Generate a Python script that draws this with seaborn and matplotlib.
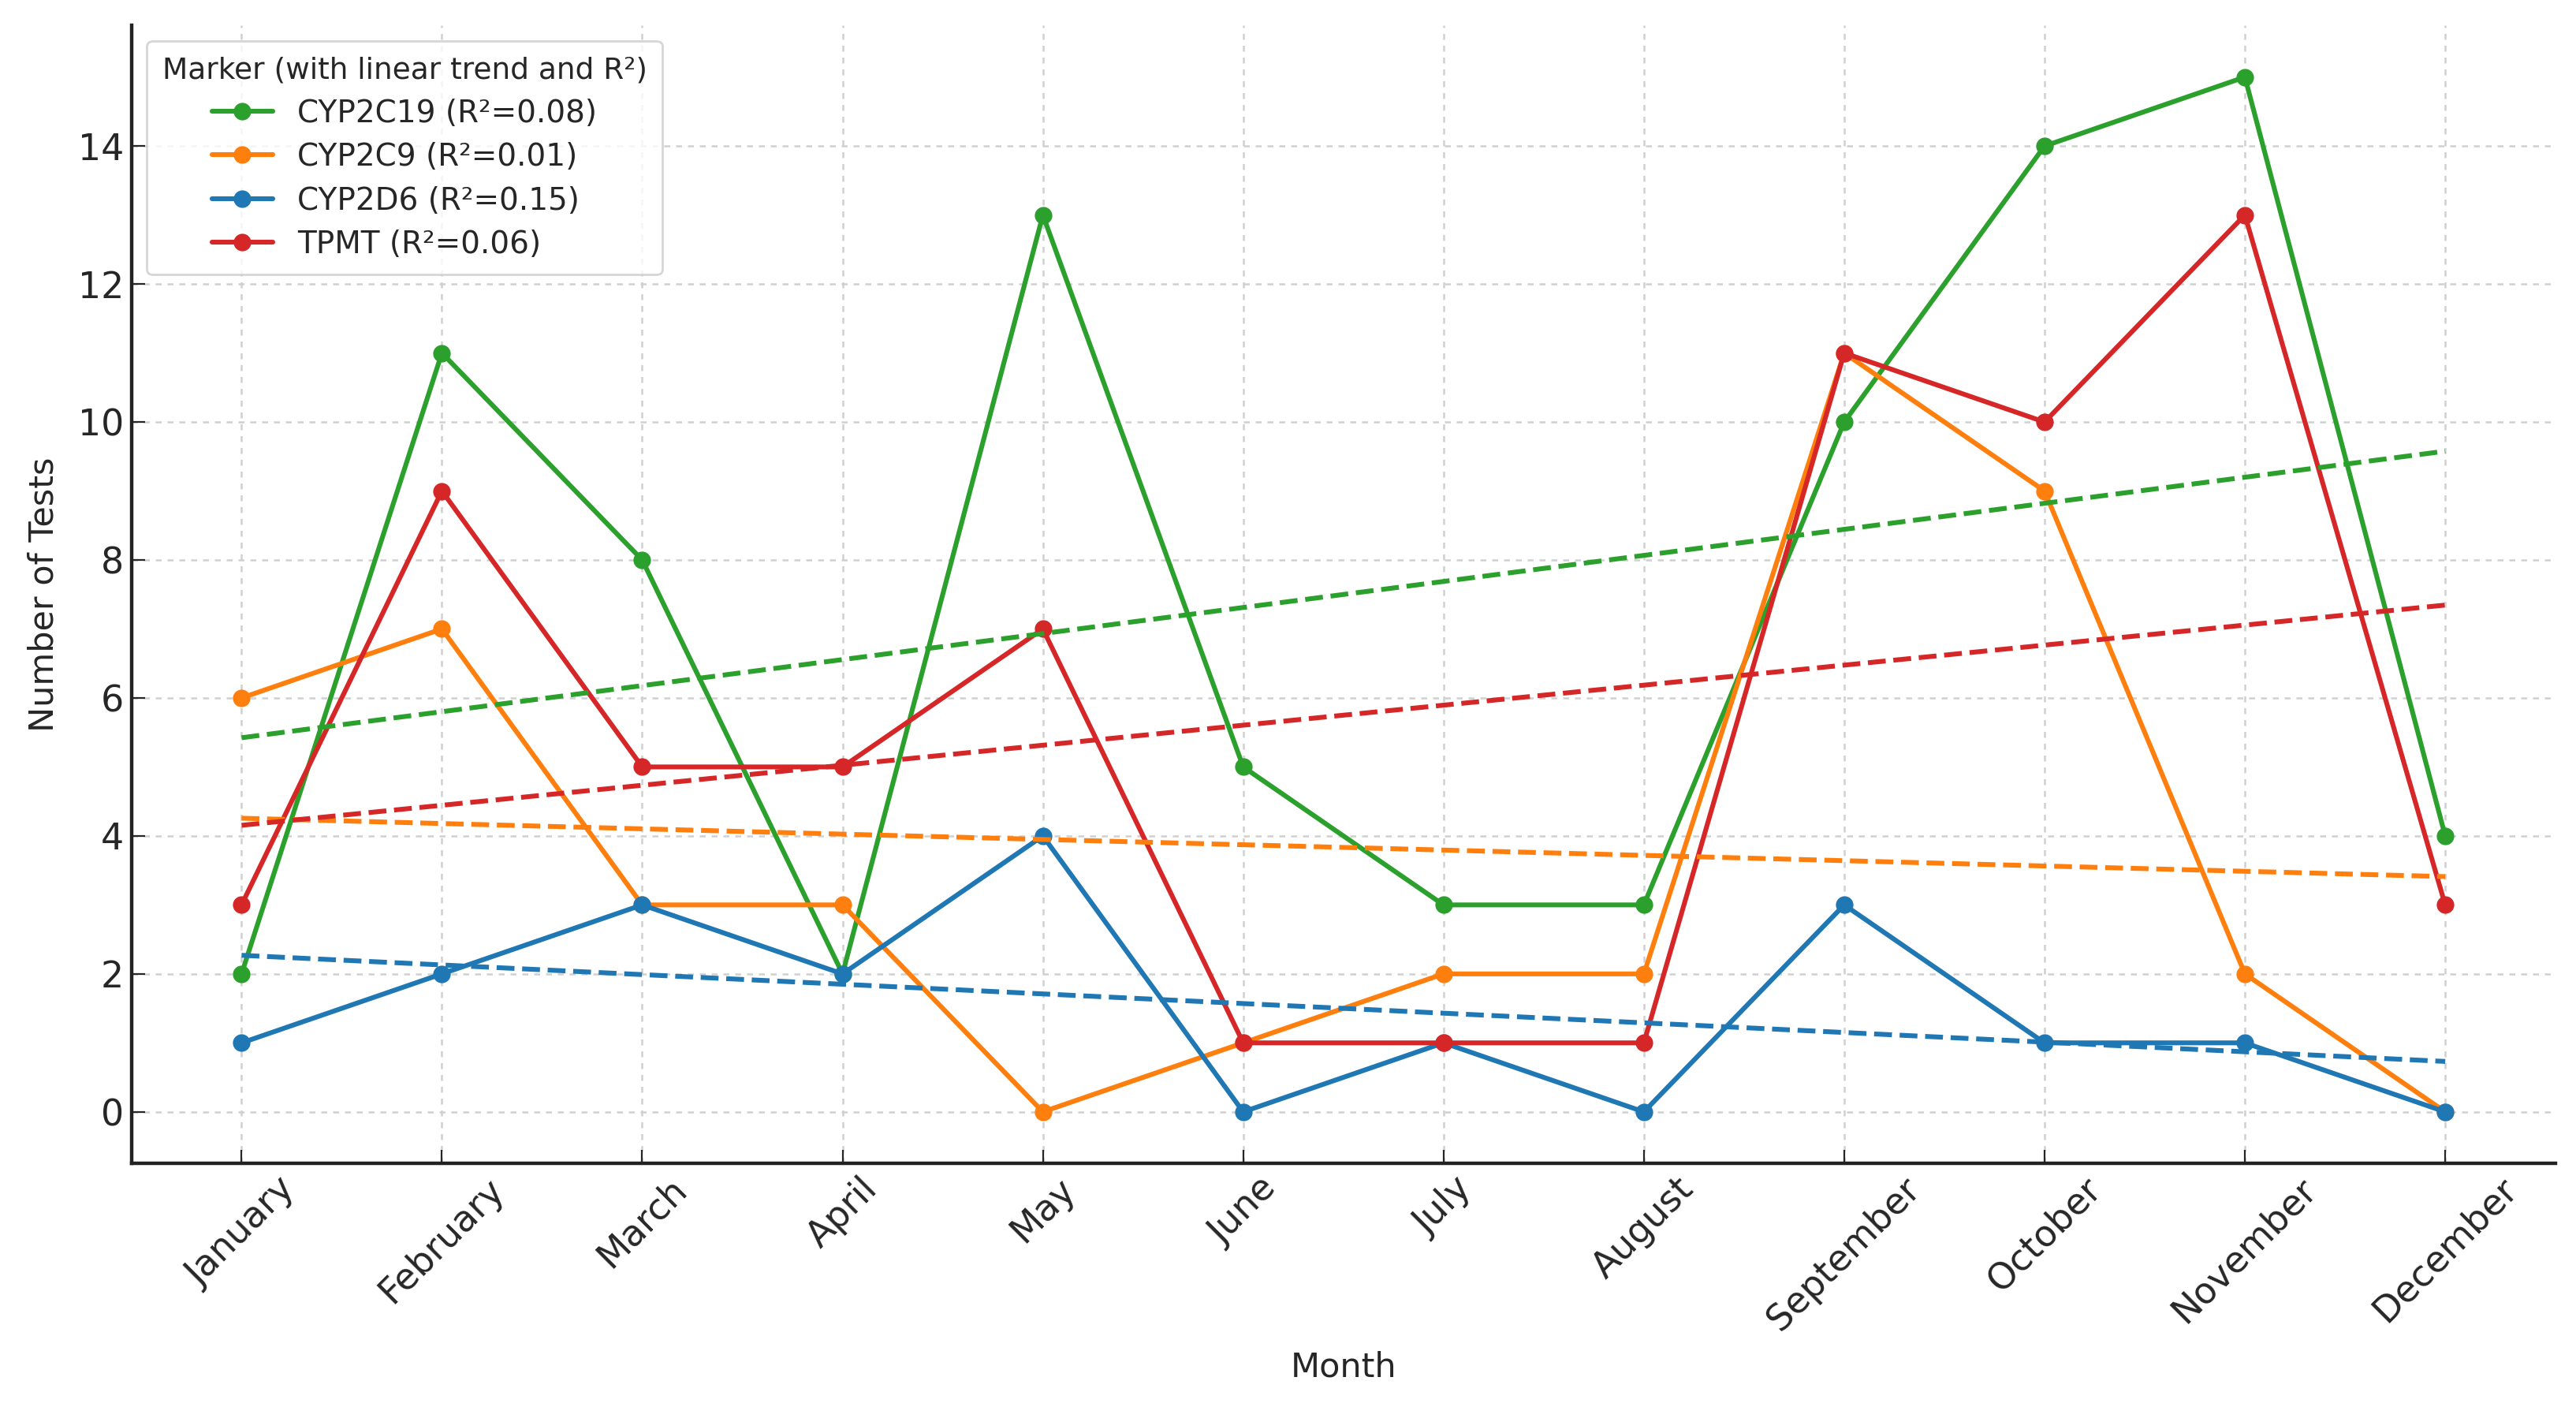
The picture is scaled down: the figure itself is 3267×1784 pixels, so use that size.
import numpy as np
import pandas as pd
import seaborn as sns
import matplotlib.pyplot as plt

months = ['January', 'February', 'March', 'April', 'May', 'June', 'July',
          'August', 'September', 'October', 'November', 'December']
markers = ['CYP2C19', 'CYP2C9', 'CYP2D6', 'TPMT']
cyp2c19 = [2, 11, 8, 2, 13, 5, 3, 3, 10, 14, 15, 4]
cyp2c9 = [6, 7, 3, 3, 0, 1, 2, 2, 11, 9, 2, 0]
cyp2d6 = [1, 2, 3, 2, 4, 0, 1, 0, 3, 1, 1, 0]
tpmt = [3, 9, 5, 5, 7, 1, 1, 1, 11, 10, 13, 3]
r2_labels = ['0.08', '0.01', '0.15', '0.06']
colors = {'CYP2C19': '#2ca02c', 'CYP2C9': '#ff7f0e', 'CYP2D6': '#1f77b4', 'TPMT': '#d62728'}

series = dict(zip(markers, [cyp2c19, cyp2c9, cyp2d6, tpmt]))
rows = []
for m in markers:
    for i, v in enumerate(series[m]):
        rows.append({'month_idx': i, 'Month': months[i], 'Marker': m, 'Tests': v})
df = pd.DataFrame(rows)

sns.set_style('ticks')
plt.rcParams['font.family'] = ['DejaVu Sans']

fig, ax = plt.subplots(figsize=(16.335, 8.92), dpi=200)
fig.subplots_adjust(left=0.051, right=0.992, top=0.982, bottom=0.173)

ax.grid(True, linestyle=(0, (3, 3)), color='#d0d0d0', linewidth=0.9)
ax.set_axisbelow(True)

sns.lineplot(data=df, x='month_idx', y='Tests', hue='Marker', hue_order=markers,
             palette=colors, marker='o', markersize=8, markeredgewidth=0,
             linewidth=2.2, ax=ax)

x = np.arange(len(months))
for m in markers:
    k, b = np.polyfit(x, series[m], 1)
    ax.plot(x, k * x + b, linestyle='--', color=colors[m], linewidth=2.2)

handles, labels = ax.get_legend_handles_labels()
new_labels = [f'{m} (R²={r})' for m, r in zip(markers, r2_labels)]
ax.legend(handles[:4], new_labels, title='Marker (with linear trend and R²)',
          loc='upper left', fontsize=14, title_fontsize=13.5, frameon=True,
          framealpha=0.8, borderpad=0.5, labelspacing=0.45)

ax.set_xticks(x)
ax.set_xticklabels(months, rotation=45, ha='center')
ax.tick_params(direction='in', labelsize=16.5, length=6)
ax.set_xlabel('Month', fontsize=15.5, labelpad=6)
ax.set_ylabel('Number of Tests', fontsize=15.5, labelpad=8)
for s in ['top', 'right']:
    ax.spines[s].set_visible(False)
for s in ['left', 'bottom']:
    ax.spines[s].set_linewidth(1.6)
    ax.spines[s].set_color('#222222')

fig.savefig('out.png', dpi=200)
